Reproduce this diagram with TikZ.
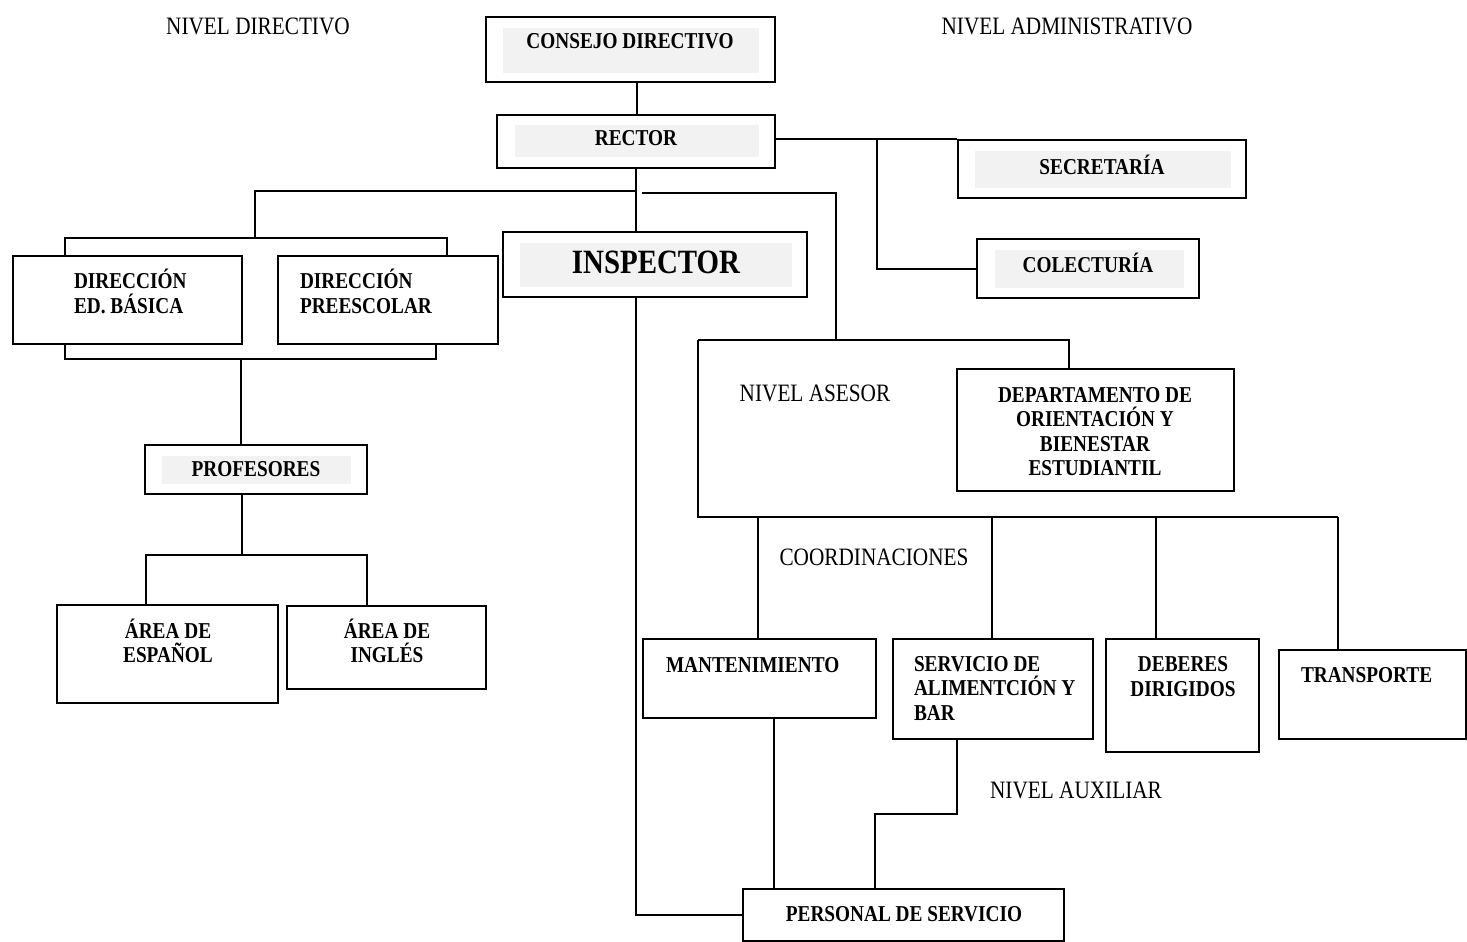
\documentclass[tikz,border=0pt]{standalone}
\usepackage{fontspec}
\setmainfont{Liberation Serif}[FakeStretch=0.85]
\definecolor{boxgray}{HTML}{F2F2F2}

\begin{document}
\begin{tikzpicture}[x=1pt, y=-1pt, line width=2pt,
    box/.style={draw, line width=2pt, inner sep=0pt},
    txt/.style={font=\bfseries\fontsize{22.7}{24.5}\selectfont, inner sep=0pt},
    lvl/.style={font=\fontsize{25}{27}\selectfont, inner sep=0pt}]
            \useasboundingbox (0,0) rectangle (1467,942);
            % ==== LEVEL TITLES ====
            \node[lvl] (ndir) at (258,26) {NIVEL DIRECTIVO};
            \node[lvl] (nadm) at (1067,26) {NIVEL ADMINISTRATIVO};
            \node[lvl] (nase) at (815,393) {NIVEL ASESOR};
            \node[lvl] (ncoo) at (874,557) {COORDINACIONES};
            \node[lvl] (naux) at (1076,790) {NIVEL AUXILIAR};

            % ==== TOP ====
            \node[box, minimum width=289, minimum height=65] (consejo) at (630.5,49.5) {};
            \fill[boxgray] (503,28) rectangle (759,73);
            \node[txt] (consejoT) at (630,41) {CONSEJO DIRECTIVO};
            \node[box, minimum width=278, minimum height=53] (rector) at (636,141.5) {};
            \fill[boxgray] (515,125) rectangle (759,157);
            \node[txt] (rectorT) at (636,138) {RECTOR};
            \node[box, minimum width=304, minimum height=65] (insp) at (655,264.5) {};
            \fill[boxgray] (520,243) rectangle (792,287);
            \node[txt, font=\bfseries\fontsize{34}{36}\selectfont] (inspT) at (656,262) {INSPECTOR};

            % ==== ADMINISTRATIVE ====
            \node[box, minimum width=288, minimum height=58] (secre) at (1102,169) {};
            \fill[boxgray] (975,151) rectangle (1231,188);
            \node[txt] (secreT) at (1102,165) {SECRETARÍA};
            \node[box, minimum width=222, minimum height=59] (colec) at (1088,268.5) {};
            \fill[boxgray] (995,250) rectangle (1184,288);
            \node[txt] (colecT) at (1088,263) {COLECTURÍA};

            % ==== DIRECTIVE ====
            \node[box, minimum width=229, minimum height=88] (dirbas) at (127.5,300) {};
            \node[txt, anchor=west, align=left] (dirbasT) at (73,291.5) {DIRECCIÓN\\ED. BÁSICA};
            \node[box, minimum width=220, minimum height=88] (dirpre) at (388,300) {};
            \node[txt, anchor=west, align=left] (dirpreT) at (299,291.5) {DIRECCIÓN\\PREESCOLAR};
            \node[box, minimum width=222, minimum height=49] (prof) at (256,469.5) {};
            \fill[boxgray] (162,456) rectangle (351,484);
            \node[txt] (profT) at (256,469) {PROFESORES};
            \node[box, minimum width=221, minimum height=98] (esp) at (167.5,654) {};
            \node[txt, align=center] (espT) at (168,641) {ÁREA DE\\ESPAÑOL};
            \node[box, minimum width=199, minimum height=83] (ing) at (386.5,647.5) {};
            \node[txt, align=center] (ingT) at (387,641) {ÁREA DE\\INGLÉS};

            % ==== ADVISORY / COORDINATIONS ====
            \node[box, minimum width=277, minimum height=122] (depto) at (1095.5,430) {};
            \node[txt, align=center] (deptoT) at (1095,431.5) {DEPARTAMENTO DE\\ORIENTACIÓN Y\\BIENESTAR\\ESTUDIANTIL};
            \node[box, minimum width=233, minimum height=79] (mant) at (759.5,678.5) {};
            \node[txt, anchor=west] (mantT) at (665,665) {MANTENIMIENTO};
            \node[box, minimum width=200, minimum height=100] (serv) at (993,689) {};
            \node[txt, anchor=west, align=left] (servT) at (913,688.5) {SERVICIO DE\\ALIMENTCIÓN Y\\BAR};
            \node[box, minimum width=153, minimum height=113] (deb) at (1182.5,695.5) {};
            \node[txt, align=center] (debT) at (1183,676.5) {DEBERES\\DIRIGIDOS};
            \node[box, minimum width=187, minimum height=89] (trans) at (1372.5,694.5) {};
            \node[txt, anchor=west] (transT) at (1300,675) {TRANSPORTE};
            \node[box, minimum width=321, minimum height=52] (pers) at (903.5,915) {};
            \node[txt] (persT) at (904,914) {PERSONAL DE SERVICIO};

            % ==== JUNCTIONS ====
            \coordinate (jl) at (255,191);
            \coordinate (jr) at (836,193);
            \coordinate (jd) at (255,238);
            \coordinate (jb) at (241,359);
            \coordinate (jp) at (242,555);
            \coordinate (ja) at (698,340);
            \coordinate (jc) at (698,517);
            \coordinate (jx) at (877,140);
            \coordinate (js) at (957,814);

            % ==== CONNECTORS ====
            \draw (rector.north -| 637,0) -- (637,0 |- consejo.south);
            \draw (rector.south) -- (rector.south |- insp.north);
            \draw (rector.east |- secre.north) -- (secre.north west);
            \draw (jx) |- (colec.west);
            \draw (rector.south |- jl) -- (jl) -- (jd);
            \draw (65,0 |- dirbas.north) |- (jd) -| (447,0 |- dirpre.north);
            \draw (65,0 |- dirbas.south) |- (jb) -| (436,0 |- dirpre.south);
            \draw (jb) -- (jb |- prof.north);
            \draw (prof.south -| jp) -- (jp);
            \draw (146,0 |- esp.north) |- (jp) -| (367,0 |- ing.north);
            \draw (642,193) -- (jr) -- (jr |- ja);
            \draw (ja) -| (1069,0 |- depto.north);
            \draw (ja) -- (jc) -- (1338,0 |- jc);
            \draw (758,0 |- jc) -- (758,0 |- mant.north);
            \draw (992,0 |- jc) -- (992,0 |- serv.north);
            \draw (1156,0 |- jc) -- (1156,0 |- deb.north);
            \draw (1338,0 |- jc) -- (1338,0 |- trans.north);
            \draw (insp.south -| rector.south) |- (pers.west);
            \draw (774,0 |- mant.south) -- (774,0 |- pers.north);
            \draw (js |- serv.south) -- (js) -| (875,0 |- pers.north);
\end{tikzpicture}
\end{document}
